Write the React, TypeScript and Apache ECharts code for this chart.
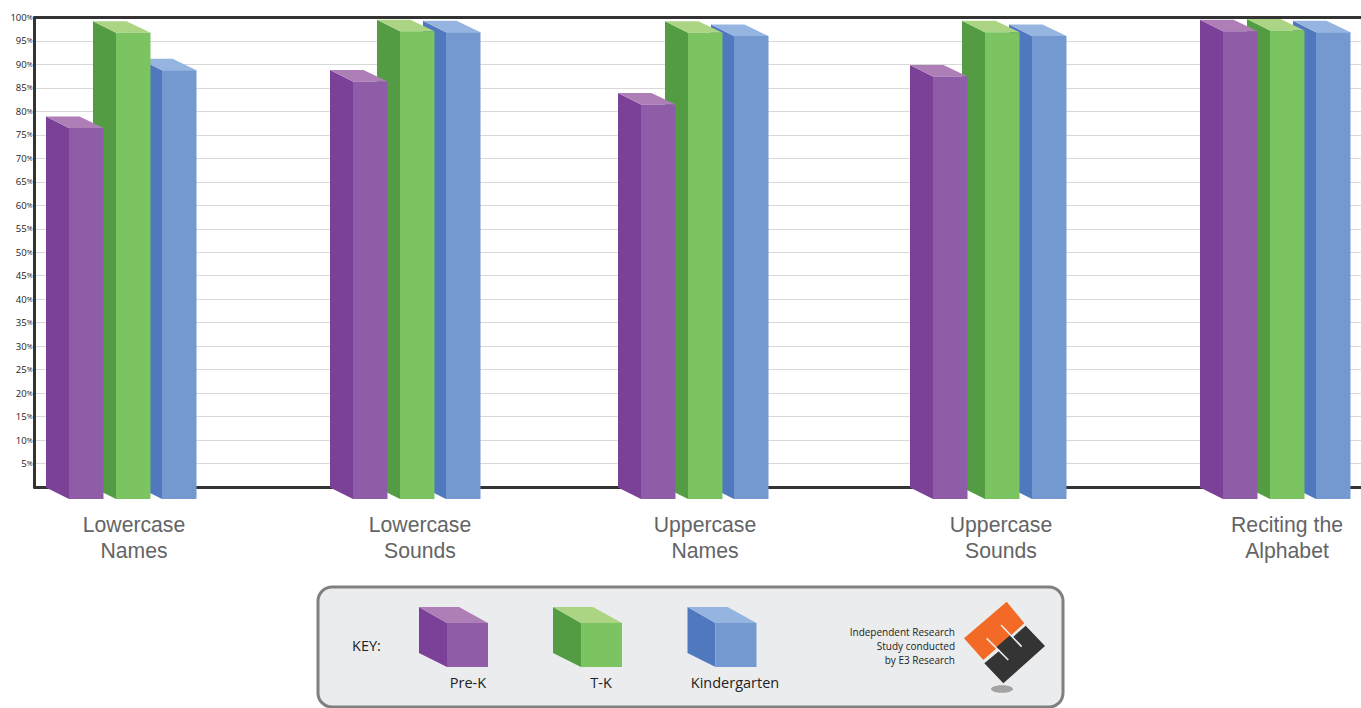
import React, { useEffect, useRef } from "react";
import * as echarts from "echarts";

const categories = [
  "Lowercase\nNames",
  "Lowercase\nSounds",
  "Uppercase\nNames",
  "Uppercase\nSounds",
  "Reciting the\nAlphabet",
];
const preK = [78.9, 88.8, 83.9, 89.9, 99.5];
const tK = [99.2, 99.5, 99.2, 99.3, 99.7];
const kindergarten = [91.2, 99.3, 98.5, 98.5, 99.3];
const seriesNames = ["Pre-K", "T-K", "Kindergarten"];

// Layout (pixels)
const GRID_TOP = 17.5;
const GRID_H = 469.5;
const BAND = 287.5;
const BAND_LEFT = -9.75;
const DX = 23;
const DY = 11.5;
const FRONT_W = 34.5;
const groupNudge = [-18, -21.5, -21, -11.5, -14];
const labelShift = [0, -1.5, -4, 4.5, 3];
const seriesOffsets = [
  [-47, -47, -47, -52, -47],
  [0, 0, 0, 0, 0],
  [46, 46, 46, 47, 46],
];
const palette = [
  { front: "#8f5da7", side: "#7b4199", top: "#ae7fb6" },
  { front: "#7cc462", side: "#549c44", top: "#acd583" },
  { front: "#7399d0", side: "#4f78bf", top: "#95b5e0" },
];

const FONT_LABEL = "Liberation Sans";
const FONT_KEY = "Open Sans";

function barRenderer(seriesIdx: number) {
  return (_params: any, api: any) => {
    const i = api.value(0);
    const top = api.coord([i, api.value(1)]);
    const zero = api.coord([i, 0]);
    const fl = top[0] + groupNudge[i] + seriesOffsets[seriesIdx][i];
    const yT = top[1];
    const y0 = zero[1] + 0.5;
    const c = palette[seriesIdx];
    const poly = (points: number[][], fill: string) => ({
      type: "polygon",
      shape: { points },
      style: { fill },
    });
    return {
      type: "group",
      children: [
        poly(
          [
            [fl - DX, yT],
            [fl, yT + DY],
            [fl, y0 + DY],
            [fl - DX, y0],
          ],
          c.side,
        ),
        poly(
          [
            [fl - DX, yT],
            [fl - DX + FRONT_W - 1, yT],
            [fl + FRONT_W, yT + DY],
            [fl, yT + DY],
          ],
          c.top,
        ),
        poly(
          [
            [fl, yT + DY],
            [fl + FRONT_W, yT + DY],
            [fl + FRONT_W, y0 + DY],
            [fl, y0 + DY],
          ],
          c.front,
        ),
      ],
    };
  };
}

function cube(x: number, c: { front: string; side: string; top: string }) {
  const poly = (pts: number[][], fill: string) => ({
    type: "polygon",
    shape: { points: pts.map(([a, b]) => [x + a, b]) },
    style: { fill },
  });
  return [
    poly([[0, 607], [28, 623], [28, 667], [0, 653]], c.side),
    poly([[0, 607], [40, 607], [69, 623], [28, 623]], c.top),
    poly([[28, 623], [69, 623], [69, 667], [28, 667]], c.front),
  ];
}

const lp = (x: number, y: number) => [955 + x / 3, 595 + y / 3];
const polyL = (pts: number[][], fill: string) => ({
  type: "polygon",
  shape: { points: pts.map(([a, b]) => lp(a, b)) },
  style: { fill },
});
const lineL = (a: number[], b: number[]) => {
  const [x1, y1] = lp(a[0], a[1]);
  const [x2, y2] = lp(b[0], b[1]);
  return {
    type: "line",
    shape: { x1, y1, x2, y2 },
    style: { stroke: "#eceded", lineWidth: 1.6 },
  };
};

const keyText = (text: string, x: number, y: number, size: number, align: string, weight: any = 400) => ({
  type: "text",
  x,
  y,
  style: {
    text,
    fontFamily: FONT_KEY,
    fontSize: size,
    fontWeight: weight,
    fill: "#222222",
    align,
    verticalAlign: "middle",
  },
});

export default function App() {
  const ref = useRef<HTMLDivElement>(null);
  useEffect(() => {
    document.body.style.margin = "0";
    document.body.style.overflow = "hidden";
    const chart = echarts.init(ref.current!, null, { renderer: "svg" });
    const rich: any = {};
    labelShift.forEach((s, i) => {
      rich["c" + i] = {
        fontFamily: FONT_LABEL,
        fontSize: 21.2,
        color: "#636466",
        lineHeight: 26,
        padding: s >= 0 ? [0, 0, 0, s * 2] : [0, -s * 2, 0, 0],
      };
    });
    const allSeries = [preK, tK, kindergarten];
    chart.setOption({
      animation: false,
      backgroundColor: "#ffffff",
      grid: [
        { left: 34.5, top: GRID_TOP, right: 0, height: GRID_H, outerBoundsMode: "none" },
        {
          left: BAND_LEFT,
          top: GRID_TOP,
          width: BAND * categories.length,
          height: GRID_H,
          outerBoundsMode: "none",
        },
      ],
      xAxis: [
        {
          gridIndex: 0,
          type: "category",
          position: "bottom",
          data: categories,
          axisLine: { show: true, lineStyle: { color: "#333333", width: 3 } },
          axisTick: { show: false },
          axisLabel: { show: false },
          splitLine: { show: false },
        },
        {
          gridIndex: 0,
          type: "category",
          position: "top",
          data: categories,
          axisLine: { show: true, onZero: false, lineStyle: { color: "#333333", width: 3 } },
          axisTick: { show: false },
          axisLabel: { show: false },
          splitLine: { show: false },
        },
        {
          gridIndex: 1,
          type: "category",
          position: "bottom",
          data: categories,
          axisLine: { show: false },
          axisTick: { show: false },
          splitLine: { show: false },
          axisLabel: {
            interval: 0,
            margin: 24,
            hideOverlap: false,
            formatter: (v: string, i: number) =>
              v.split("\n").map((t) => `{c${i}|${t}}`).join("\n"),
            rich,
          },
        },
      ],
      yAxis: [
        {
          gridIndex: 0,
          type: "value",
          min: 0,
          max: 100,
          interval: 5,
          axisLine: { show: true, lineStyle: { color: "#333333", width: 3 } },
          axisTick: { show: false },
          splitLine: { show: true, lineStyle: { color: "#d8d8d8", width: 1 } },
          axisLabel: {
            margin: 2,
            formatter: (v: number) => (v === 0 ? "" : `{n|${v}}{p|%}`),
            rich: {
              n: { fontFamily: FONT_KEY, fontSize: 9.5, color: "#222222" },
              p: { fontFamily: FONT_KEY, fontSize: 7, color: "#222222" },
            },
          },
        },
        { gridIndex: 1, type: "value", min: 0, max: 100, show: false },
      ],
      series: allSeries.map((vals, s) => ({
        type: "custom",
        name: seriesNames[s],
        xAxisIndex: 2,
        yAxisIndex: 1,
        z: 6 - s,
        clip: false,
        encode: { x: 0, y: 1 },
        data: vals.map((v, i) => [i, v]),
        renderItem: barRenderer(s),
      })),
      graphic: [
        {
          type: "rect",
          shape: { x: 318, y: 587, width: 745, height: 120, r: 14 },
          style: { fill: "#ebeced", stroke: "#808080", lineWidth: 3 },
        },
        keyText("KEY:", 352, 645, 14.5, "left"),
        ...cube(419, palette[0]),
        ...cube(553, palette[1]),
        ...cube(687.5, palette[2]),
        keyText(seriesNames[0], 468, 682, 14.5, "center"),
        keyText(seriesNames[1], 601, 682, 14.5, "center"),
        keyText(seriesNames[2], 735, 682, 14.5, "center", 500),
        keyText("Independent Research", 955, 632, 10, "right"),
        keyText("Study conducted", 955, 646, 10, "right"),
        keyText("by E3 Research", 955, 660, 10, "right"),
        polyL([[27, 130], [155, 20], [208, 85], [85, 195]], "#f26a25"),
        polyL(
          [[212, 92], [270, 153], [145, 265], [88, 205], [135, 166], [122, 158], [166, 120], [172, 128]],
          "#343434",
        ),
        lineL([95, 130], [160, 195]),
        lineL([138, 90], [200, 155]),
        {
          type: "ellipse",
          shape: { cx: 1002, cy: 689, rx: 11, ry: 3.8 },
          style: { fill: "#a3a3a3" },
        },
      ],
    });
    return () => chart.dispose();
  }, []);
  return <div ref={ref} style={{ width: 1361, height: 708 }} />;
}
